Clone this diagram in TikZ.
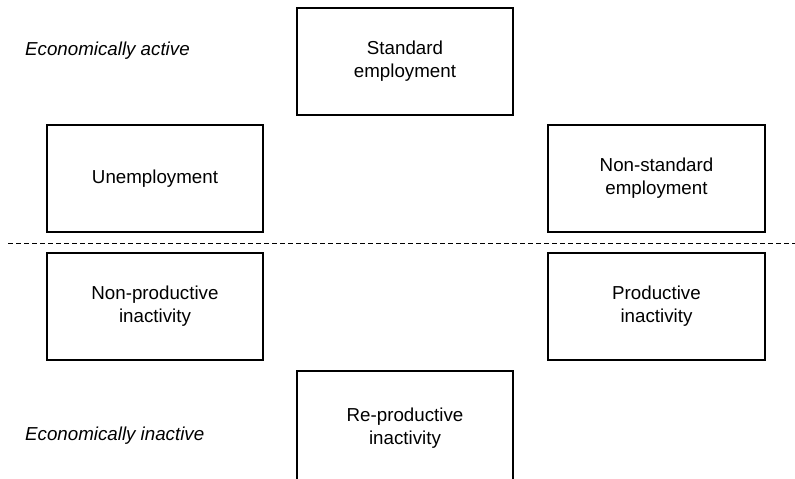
\documentclass[tikz,border=0pt]{standalone}
\usepackage{fontspec}
\setmainfont{Liberation Sans}
\usetikzlibrary{positioning}

\tikzset{
    state/.style={draw, line width=1.6pt, minimum width=6.5cm, minimum height=3.2cm,
        align=center, font=\fontsize{16}{19.5}\selectfont},
    side/.style={anchor=west, font=\fontsize{16}{19.5}\selectfont\itshape}
}

\begin{document}
\begin{tikzpicture}[x=0.03cm, y=-0.03cm]
    \useasboundingbox (0,0) rectangle (795,478);
    \clip (0,0) rectangle (795,478);

    % active side
    \node[state] (std) at (405,61.5) {Standard\\employment};
    \node[state] (unemp) at (155,178.5) {Unemployment};
    \node[state] (nonstd) at (656.5,178.5) {Non-standard\\employment};

    % boundary between the two sides
    \coordinate (bl) at (8,243);
    \coordinate (br) at (795,243);
    \draw[line width=0.8pt, dash pattern=on 0.15cm off 0.09cm] (bl) -- (br);

    % inactive side
    \node[state] (nonprod) at (155,306.5) {Non-productive\\inactivity};
    \node[state] (prod) at (656.5,306.5) {Productive\\inactivity};
    \node[state, minimum height=3.4cm] (reprod) at (405,428) {Re-productive\\inactivity};

    \node[side] (act) at (21,51) {Economically active};
    \node[side] (inact) at (21,436) {Economically inactive};
\end{tikzpicture}
\end{document}
